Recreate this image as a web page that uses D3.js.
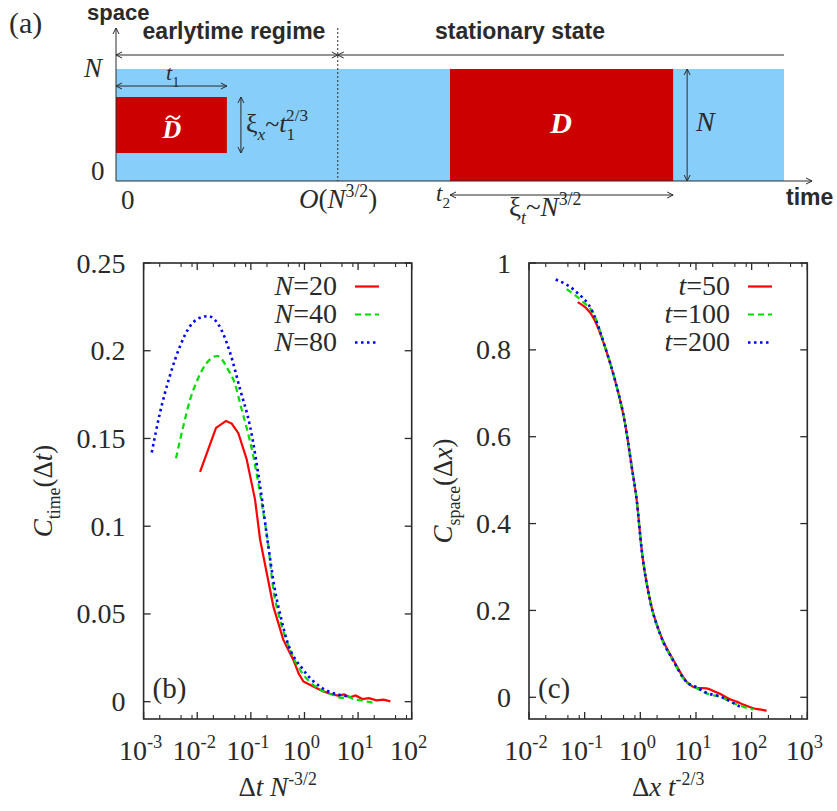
<!DOCTYPE html>
<html>
<head>
<meta charset="utf-8">
<script src="https://cdn.jsdelivr.net/npm/d3@7"></script>
<style>
  body { margin: 0; background: #fff; }
</style>
</head>
<body>
<div id="chart"></div>
<script>
// ---------- data ----------
// panel (b): C_time vs dt N^-3/2
var timeLabels = ["20", "40", "80"];
var timeN20 = [[0.0113, 0.131], [0.0224, 0.156], [0.0344, 0.160], [0.044, 0.1585], [0.0585, 0.153],
  [0.0838, 0.138], [0.12, 0.115], [0.149, 0.0923], [0.198, 0.0733], [0.263, 0.0542], [0.404, 0.0352],
  [0.621, 0.0238], [0.78, 0.016], [0.955, 0.0115], [1.5, 0.0085], [2.2, 0.006], [3.0, 0.0045], [4.2, 0.0035],
  [5.5, 0.0042], [7.0, 0.0025], [9.0, 0.0035], [12, 0.0015], [16, 0.002], [22, 0.0008], [30, 0.0012], [40, 0.0002]];
var timeN40 = [[0.00402, 0.1387], [0.0055, 0.157], [0.00735, 0.172], [0.0105, 0.1846], [0.015, 0.193],
  [0.0237, 0.197], [0.038, 0.189], [0.0507, 0.181], [0.063, 0.170], [0.111, 0.140], [0.171, 0.1075],
  [0.205, 0.0923], [0.263, 0.0638], [0.351, 0.0466], [0.538, 0.0295], [0.828, 0.0181], [1.47, 0.0095],
  [2.4, 0.0055], [3.47, 0.0038], [5.0, 0.0022], [6.5, 0.0032], [8.1, 0.0014], [11, 0.0008], [14, 0.0002], [19.3, -0.0006]];
var timeN80 = [[0.00142, 0.142], [0.00202, 0.1646], [0.00311, 0.186], [0.00478, 0.2026], [0.00735, 0.214],
  [0.0113, 0.2188], [0.0161, 0.2197], [0.0248, 0.215], [0.0409, 0.199], [0.063, 0.178], [0.0966, 0.157],
  [0.149, 0.1227], [0.212, 0.0885], [0.28, 0.064], [0.37, 0.047], [0.468, 0.0352], [0.955, 0.0181],
  [1.95, 0.0086], [3.0, 0.0055], [4.6, 0.0038], [7.1, 0.0029]];
var timeYTicks = [0, 0.05, 0.1, 0.15, 0.2, 0.25];
var timeXExp = [-3, -2, -1, 0, 1, 2];

// panel (c): C_space vs dx t^-2/3
var spaceLabels = ["50", "100", "200"];
var spaceT50 = [[0.075, 0.910], [0.149, 0.870], [0.232, 0.807], [0.351, 0.730], [0.531, 0.631],
  [0.70, 0.531], [0.861, 0.454], [1.059, 0.339], [1.49, 0.224], [2.26, 0.147], [3.92, 0.0858],
  [6.81, 0.036], [10, 0.022], [15.5, 0.0207], [20, 0.015], [26.9, 0.008], [40, -0.004],
  [53.7, -0.010], [75, -0.018], [107, -0.0253], [140, -0.028], [186, -0.0308]];
var spaceT100 = [[0.0475, 0.940], [0.09, 0.912], [0.143, 0.884], [0.232, 0.807], [0.351, 0.730],
  [0.531, 0.631], [0.70, 0.531], [0.861, 0.454], [1.059, 0.339], [1.49, 0.224], [2.26, 0.145],
  [3.92, 0.083], [6.81, 0.034], [10, 0.022], [15.5, 0.009], [26.9, 0.001], [53.7, -0.016],
  [80, -0.024], [107, -0.028]];
var spaceT200 = [[0.0302, 0.962], [0.067, 0.936], [0.143, 0.884], [0.232, 0.807], [0.351, 0.730],
  [0.531, 0.631], [0.70, 0.531], [0.861, 0.454], [1.059, 0.339], [1.49, 0.224], [2.26, 0.146],
  [3.92, 0.084], [6.81, 0.035], [10, 0.024], [15.5, 0.010], [26.9, 0.002], [45, -0.012], [66, -0.024]];
var spaceYTicks = [0, 0.2, 0.4, 0.6, 0.8, 1];
var spaceXExp = [-2, -1, 0, 1, 2, 3];

// panel (a): schematic, in fractions of the drawn time / space extent
var earlyEnd = 0.332;
var t1End = 0.166;
var dTildeSpace = [0.25, 0.75];
var dBlock = [0.5, 0.834];
var xiXAt = 0.187, nArrowAt = 0.855;

var colors = ["#ff0000", "#00dd00", "#0000ff"];
var dashes = [null, "6,4", "2.5,3.5"];
var serif = "'Liberation Serif', 'Times New Roman', serif";
var sans = "'Liberation Sans', Arial, sans-serif";
var ink = "#2a2a2a";

var svg = d3.select("#chart").append("svg")
  .attr("width", 837).attr("height", 811)
  .style("background", "#fff");

var defs = svg.append("defs");
defs.append("marker")
  .attr("id", "arr")
  .attr("viewBox", "-7 -4 8 8")
  .attr("markerWidth", 8).attr("markerHeight", 8)
  .attr("markerUnits", "userSpaceOnUse")
  .attr("orient", "auto-start-reverse")
  .append("path")
  .attr("d", "M-6,-3L0,0L-6,3")
  .attr("fill", "none").attr("stroke", ink).attr("stroke-width", 1);

// text with sub / superscripts
function rich(sel, parts, size) {
  var shift = 0;
  parts.forEach(function (p) {
    var target = p.sub ? size * 0.3 : (p.sup ? -size * 0.42 : 0);
    var ts = sel.append("tspan").attr("dy", target - shift).text(p.t);
    if (p.dx) ts.attr("dx", p.dx);
    shift = target;
    if (p.i) ts.attr("font-style", "italic");
    if (p.sub || p.sup) ts.attr("font-size", size * 0.66);
  });
  return sel;
}

// ---------- panel (a) ----------
var sx = d3.scaleLinear().domain([0, 1]).range([116, 784]);
var sy = d3.scaleLinear().domain([0, 1]).range([181, 69]);

svg.append("rect")
  .attr("x", sx(0)).attr("y", sy(1))
  .attr("width", sx(1) - sx(0)).attr("height", sy(0) - sy(1))
  .attr("fill", "#87cefa");
svg.append("rect")
  .attr("x", sx(0)).attr("y", sy(dTildeSpace[1]))
  .attr("width", sx(t1End) - sx(0)).attr("height", sy(dTildeSpace[0]) - sy(dTildeSpace[1]))
  .attr("fill", "#cc0000");
svg.append("rect")
  .attr("x", sx(dBlock[0])).attr("y", sy(1))
  .attr("width", sx(dBlock[1]) - sx(dBlock[0])).attr("height", sy(0) - sy(1))
  .attr("fill", "#cc0000");

function seg(x1, y1, x2, y2, startArrow, endArrow, dash) {
  var l = svg.append("line")
    .attr("x1", x1).attr("y1", y1).attr("x2", x2).attr("y2", y2)
    .attr("stroke", ink).attr("stroke-width", 1);
  if (startArrow) l.attr("marker-start", "url(#arr)");
  if (endArrow) l.attr("marker-end", "url(#arr)");
  if (dash) l.attr("stroke-dasharray", dash);
  return l;
}

// axes of the schematic
seg(sx(0), sy(0), sx(0), sy(1.366), false, true);
seg(sx(0), sy(0), sx(1.042), sy(0), false, true);
seg(sx(earlyEnd), sy(1.366), sx(earlyEnd), sy(0), false, false, "2,2");
// regime arrows
seg(sx(0), sy(1.125), sx(earlyEnd), sy(1.125), true, true);
seg(sx(earlyEnd), sy(1.125), sx(1), sy(1.125), true, false);
// t1, xi_x, N, xi_t arrows
seg(sx(0), sy(0.848), sx(t1End), sy(0.848), true, true);
seg(sx(xiXAt), sy(dTildeSpace[1]), sx(xiXAt), sy(dTildeSpace[0]), true, true);
seg(sx(nArrowAt), sy(1), sx(nArrowAt), sy(0), true, true);
seg(sx(dBlock[0]), sy(-0.125), sx(dBlock[1]), sy(-0.125), true, true);

function label(x, y, txt, font, size, opt) {
  opt = opt || {};
  var t = svg.append("text").attr("x", x).attr("y", y)
    .attr("font-family", font).attr("font-size", size)
    .attr("fill", opt.fill || ink)
    .attr("text-anchor", opt.anchor || "start");
  if (opt.bold) t.attr("font-weight", "bold");
  if (opt.italic) t.attr("font-style", "italic");
  if (typeof txt === "string") t.text(txt); else rich(t, txt, size);
  return t;
}

label(9, 33, "(a)", serif, 30);
label(87, 20, "space", sans, 22, { bold: true });
label(234, 39, "earlytime regime", sans, 23, { bold: true, anchor: "middle" });
label(520, 39, "stationary state", sans, 23, { bold: true, anchor: "middle" });
label(84, 77, "N", serif, 27, { italic: true });
label(91, 180, "0", serif, 27);
label(121, 209, "0", serif, 27);
label(299, 208, [{ t: "O", i: true }, { t: "(" }, { t: "N", i: true }, { t: "3/2", sup: true }, { t: ")" }], serif, 27);
label(786, 205, "time", sans, 23, { bold: true });
label(166, 80, [{ t: "t", i: true }, { t: "1", sub: true }], serif, 22);
label(172, 138, "D", serif, 26, { fill: "#fff", bold: true, italic: true, anchor: "middle" });
// tilde accent over D
svg.append("path")
  .attr("d", "M166,119.5C168,115.5 171,115.5 173,117.5S178,119.5 180,115.5")
  .attr("fill", "none").attr("stroke", "#fff").attr("stroke-width", 1.8);
label(246, 132, [{ t: "ξ" }, { t: "x", sub: true, i: true }, { t: "~" }, { t: "t", i: true },
  { t: "1", sub: true }, { t: "2/3", sup: true, dx: -9 }], serif, 26);
label(561, 133, "D", serif, 30, { fill: "#fff", bold: true, italic: true, anchor: "middle" });
label(696, 131, "N", serif, 28, { italic: true });
label(436, 201, [{ t: "t", i: true }, { t: "2", sub: true }], serif, 23);
label(509, 216, [{ t: "ξ" }, { t: "t", sub: true, i: true }, { t: "~" }, { t: "N", i: true }, { t: "3/2", sup: true }], serif, 27);

// ---------- log panels ----------
function logPanel(o) {
  var x = d3.scaleLog().domain(o.xDomain).range([o.left, o.right]);
  var y = d3.scaleLinear().domain(o.yDomain).range([o.bottom, o.top]);
  var g = svg.append("g");

  // ticks (inward, mirrored)
  var minor = [2, 5, 8];
  o.xExp.forEach(function (e, i) {
    var v = Math.pow(10, e);
    [[o.bottom, -1], [o.top, 1]].forEach(function (b) {
      g.append("line").attr("x1", x(v)).attr("x2", x(v))
        .attr("y1", b[0]).attr("y2", b[0] + b[1] * 7)
        .attr("stroke", ink).attr("stroke-width", 1.3);
      if (i < o.xExp.length - 1) {
        minor.forEach(function (m) {
          g.append("line").attr("x1", x(m * v)).attr("x2", x(m * v))
            .attr("y1", b[0]).attr("y2", b[0] + b[1] * 4)
            .attr("stroke", ink).attr("stroke-width", 1.1);
        });
      }
    });
    g.append("text").attr("x", x(v) - 3).attr("y", 760)
      .attr("font-family", serif).attr("font-size", 28).attr("fill", ink)
      .attr("text-anchor", "middle")
      .call(function (t) { rich(t, [{ t: "10" }, { t: String(e), sup: true }], 28); });
  });
  o.yTicks.forEach(function (v) {
    [[o.left, 1], [o.right, -1]].forEach(function (b) {
      g.append("line").attr("x1", b[0]).attr("x2", b[0] + b[1] * 7)
        .attr("y1", y(v)).attr("y2", y(v))
        .attr("stroke", ink).attr("stroke-width", 1.3);
    });
    g.append("text").attr("x", o.left - 18).attr("y", y(v)).attr("dy", "0.34em")
      .attr("font-family", serif).attr("font-size", 28).attr("fill", ink)
      .attr("text-anchor", "end").text(String(v));
  });

  o.series.forEach(function (s, i) {
    // the first (red) series of (b) is drawn as straight segments, the others smoothed
    var line = d3.line()
      .x(function (d) { return x(d[0]); })
      .y(function (d) { return y(d[1]); })
      .curve(i === 0 && o.tag === "(b)" ? d3.curveLinear : d3.curveMonotoneX);
    g.append("path").datum(s).attr("d", line)
      .attr("fill", "none").attr("stroke", colors[i])
      .attr("stroke-width", i === 2 ? 2.6 : 2.2)
      .attr("stroke-dasharray", dashes[i]);
  });

  // legend
  o.legend.forEach(function (lab, i) {
    var yy = 295 + i * 28;
    g.append("text").attr("x", o.legendX).attr("y", yy)
      .attr("font-family", serif).attr("font-size", 28).attr("fill", ink)
      .attr("text-anchor", "end")
      .call(function (t) { rich(t, [{ t: o.legendVar, i: true }, { t: "=" + lab }], 28); });
    g.append("line").attr("x1", o.legendX + 18).attr("x2", o.legendX + 42)
      .attr("y1", yy - 8.5).attr("y2", yy - 8.5)
      .attr("stroke", colors[i]).attr("stroke-width", i === 2 ? 2.6 : 2.2)
      .attr("stroke-dasharray", dashes[i]);
  });

  // frame
  g.append("rect").attr("x", o.left).attr("y", o.top)
    .attr("width", o.right - o.left).attr("height", o.bottom - o.top)
    .attr("fill", "none").attr("stroke", ink).attr("stroke-width", 1.6);

  g.append("text").attr("x", o.left + 9).attr("y", 698)
    .attr("font-family", serif).attr("font-size", 29).attr("fill", ink).text(o.tag);

  g.append("text").attr("x", (o.left + o.right) / 2).attr("y", 796)
    .attr("font-family", serif).attr("font-size", 27).attr("fill", ink)
    .attr("text-anchor", "middle")
    .call(function (t) { rich(t, o.xTitle, 27); });

  g.append("text")
    .attr("transform", "translate(" + o.yTitleX + "," + (o.top + o.bottom) / 2 + ") rotate(-90)")
    .attr("font-family", serif).attr("font-size", 27).attr("fill", ink)
    .attr("text-anchor", "middle")
    .call(function (t) { rich(t, o.yTitle, 27); });
}

logPanel({
  left: 143.6, right: 411.7, top: 263, bottom: 719,
  xDomain: [1e-3, 1e2], yDomain: [-0.00987, 0.25],
  xExp: timeXExp, yTicks: timeYTicks,
  series: [timeN20, timeN40, timeN80],
  legend: timeLabels, legendVar: "N", legendX: 337,
  tag: "(b)",
  xTitle: [{ t: "Δ" }, { t: "t", i: true }, { t: " " }, { t: "N", i: true }, { t: "-3/2", sup: true }],
  yTitle: [{ t: "C", i: true }, { t: "time", sub: true }, { t: "(Δ" }, { t: "t", i: true }, { t: ")" }],
  yTitleX: 52
});

logPanel({
  left: 529, right: 807.3, top: 263, bottom: 719,
  xDomain: [1e-2, 1e3], yDomain: [-0.05, 1],
  xExp: spaceXExp, yTicks: spaceYTicks,
  series: [spaceT50, spaceT100, spaceT200],
  legend: spaceLabels, legendVar: "t", legendX: 730,
  tag: "(c)",
  xTitle: [{ t: "Δ" }, { t: "x", i: true }, { t: " " }, { t: "t", i: true }, { t: "-2/3", sup: true }],
  yTitle: [{ t: "C", i: true }, { t: "space", sub: true }, { t: "(Δ" }, { t: "x", i: true }, { t: ")" }],
  yTitleX: 452
});
</script>
</body>
</html>
